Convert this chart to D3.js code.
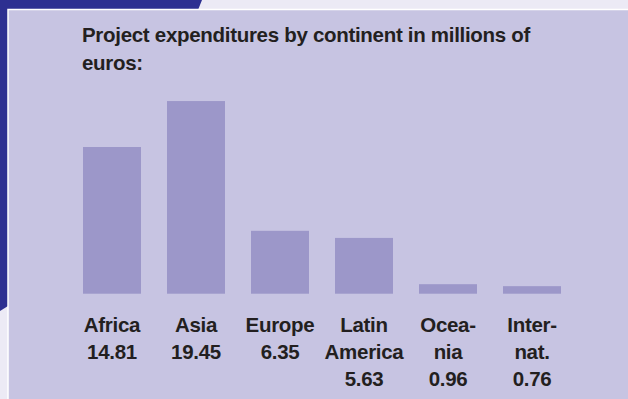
<!DOCTYPE html>
<html>
<head>
<meta charset="utf-8">
<script src="https://cdn.jsdelivr.net/npm/d3@7"></script>
<style>
  html, body { margin: 0; padding: 0; background: #ECEAF5; }
  svg { display: block; }
  text { font-family: "Liberation Sans", Arial, Helvetica, sans-serif; font-weight: bold; fill: #231F20; letter-spacing: -0.3px; }
</style>
</head>
<body>
<script>
// Expenditures per continent (millions of euros)
const categories = [["Africa"], ["Asia"], ["Europe"], ["Latin", "America"], ["Ocea-", "nia"], ["Inter-", "nat."]];
const values = [14.81, 19.45, 6.35, 5.63, 0.96, 0.76];
const titleLines = ["Project expenditures by continent in millions of", "euros:"];

const W = 628, H = 399;
const svg = d3.select("body").append("svg").attr("width", W).attr("height", H);

// Backdrop: light page with a dark blue wedge in the top-left corner
svg.append("rect").attr("width", W).attr("height", H).attr("fill", "#ECEAF5");
svg.append("path")
  .attr("d", "M0,0 L202,0 L198,10 L8,306 L0,311 Z")
  .attr("fill", "#2D3091");

// Panel
svg.append("rect")
  .attr("x", 8).attr("y", 9.5)
  .attr("width", W).attr("height", H)
  .attr("fill", "#C7C4E2")
  .attr("stroke", "#FFFFFF").attr("stroke-width", 1.5);

// Title
const title = svg.append("text").attr("x", 82).attr("y", 42).style("font-size", "20.5px");
titleLines.forEach((t, i) => {
  title.append("tspan").attr("x", 82).attr("dy", i === 0 ? 0 : 27.5).text(t);
});

// Scales
const x = d3.scaleBand()
  .domain(d3.range(values.length))
  .range([70, 574])
  .paddingInner(26 / 84)
  .paddingOuter(13 / 84);

const y = d3.scaleLinear().domain([0, 20]).range([293.7, 293.7 - 198.1]);

// Bars
svg.append("g").selectAll("rect")
  .data(values)
  .join("rect")
  .attr("x", (d, i) => x(i))
  .attr("y", d => y(d))
  .attr("width", x.bandwidth())
  .attr("height", d => y(0) - y(d))
  .attr("fill", "#9C97C9");

// Category labels with values underneath
const labels = svg.append("g").selectAll("text")
  .data(values)
  .join("text")
  .attr("text-anchor", "middle")
  .style("font-size", "20.5px")
  .attr("transform", (d, i) => `translate(${x(i) + x.bandwidth() / 2},332)`);

labels.each(function (d, i) {
  const lines = categories[i].concat([d.toFixed(2)]);
  const t = d3.select(this);
  lines.forEach((l, k) => {
    t.append("tspan").attr("x", 0).attr("y", k * 27).text(l);
  });
});
</script>
</body>
</html>
